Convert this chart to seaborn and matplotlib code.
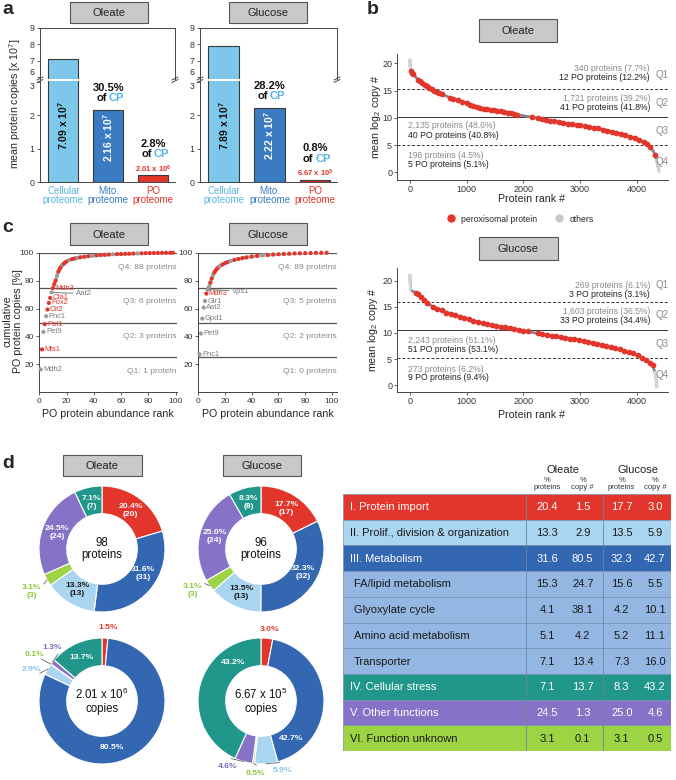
import numpy as np
import pandas as pd
import matplotlib
matplotlib.use("Agg")
import matplotlib.pyplot as plt
from matplotlib.patches import Rectangle
from matplotlib.lines import Line2D
import seaborn as sns

# ---------------- data ----------------
# a: mean protein copies [x 10^7]
a_cats = ["Cellular\nproteome", "Mito.\nproteome", "PO\nproteome"]
a_ole = [7.09, 2.16, 0.201]
a_glu = [7.89, 2.22, 0.0667]
a_ole_lbl = [r"7.09 x 10$^{\mathbf{7}}$", r"2.16 x 10$^{\mathbf{7}}$", r"2.01 x 10$^{\mathbf{6}}$"]
a_glu_lbl = [r"7.89 x 10$^{\mathbf{7}}$", r"2.22 x 10$^{\mathbf{7}}$", r"6.67 x 10$^{\mathbf{5}}$"]
a_ole_cp = ["30.5%", "2.8%"]
a_glu_cp = ["28.2%", "0.8%"]

# b: ranked mean log2 copy number (curve of all proteins + PO proteins)
b_ole_rank = [0, 3, 8, 15, 60, 140, 260, 340, 470, 560, 700, 850, 1000, 1180, 1300, 1600, 1880,
              2150, 2470, 2780, 3000, 3320, 3640, 3880, 4040, 4180, 4240, 4290, 4320, 4345, 4370, 4392]
b_ole_val = [20.6, 19.5, 18.8, 18.5, 18.0, 17.0, 16.1, 15.4, 14.8, 14.4, 13.7, 13.2, 12.7, 12.0, 11.7, 11.2, 10.6,
             10.1, 9.5, 8.95, 8.6, 8.05, 7.3, 6.55, 5.95, 5.15, 4.6, 3.9, 3.2, 2.3, 1.3, 0.2]
b_ole_po_rank = [15, 30, 60, 140, 180, 220, 260, 300, 340, 380, 420, 470, 520, 560, 700, 760, 850, 920,
                 1000, 1060, 1120, 1180, 1240, 1300, 1360, 1420, 1480, 1540, 1600, 1660, 1720, 1780, 1840,
                 1880, 2150, 2250, 2320, 2400, 2470, 2540, 2620, 2700, 2780, 2860, 2940, 3000, 3080, 3160,
                 3240, 3320, 3400, 3480, 3560, 3640, 3720, 3800, 3880, 3960, 4040, 4120, 4180, 4240, 4320]
b_ole_po_val = [18.5, 18.3, 18.0, 17.0, 16.7, 16.4, 16.1, 15.8, 15.4, 15.2, 15.0, 14.8, 14.6, 14.4, 13.7,
                13.5, 13.2, 12.9, 12.7, 12.4, 12.2, 12.0, 11.8, 11.7, 11.6, 11.5, 11.4, 11.3, 11.2, 11.1,
                10.95, 10.8, 10.7, 10.6, 10.1, 9.9, 9.8, 9.6, 9.5, 9.35, 9.2, 9.05, 8.95, 8.8, 8.7, 8.6,
                8.45, 8.3, 8.15, 8.05, 7.85, 7.65, 7.45, 7.3, 7.1, 6.85, 6.55, 6.3, 5.95, 5.55, 5.15, 4.6, 3.2]
b_ole_cuts = [15.3, 10.1, 5.0]
b_ole_q_all = ["340 proteins (7.7%)", "1,721 proteins (39.2%)", "2,135 proteins (48.6%)", "196 proteins (4.5%)"]
b_ole_q_po = ["12 PO proteins (12.2%)", "41 PO proteins (41.8%)", "40 PO proteins (40.8%)", "5 PO proteins (5.1%)"]

b_glu_rank = [0, 3, 10, 40, 100, 190, 250, 400, 600, 750, 900, 1040, 1220, 1360, 1510, 1660, 1840,
              2010, 2250, 2420, 2600, 2780, 2950, 3160, 3300, 3480, 3660, 3840, 3980, 4115, 4200,
              4280, 4320, 4340, 4355]
b_glu_val = [21.0, 19.8, 18.3, 18.0, 17.7, 16.9, 16.2, 15.0, 14.1, 13.6, 13.1, 12.6, 12.0, 11.7, 11.3,
             11.1, 10.7, 10.4, 9.9, 9.6, 9.3, 9.0, 8.7, 8.2, 7.9, 7.4, 6.9, 6.3, 5.8, 5.2, 4.5,
             3.8, 2.5, 1.0, -0.3]
b_glu_po_rank = [100, 140, 190, 250, 300, 400, 480, 560, 640, 720, 800, 880, 960, 1040, 1120, 1200,
                 1280, 1360, 1440, 1520, 1600, 1680, 1760, 1840, 1920, 2000, 2080, 2250, 2330, 2420,
                 2500, 2580, 2660, 2740, 2820, 2900, 2980, 3060, 3140, 3220, 3300, 3380, 3460, 3540,
                 3620, 3700, 3780, 3860, 3940, 4020, 4100, 4170, 4230, 4280]
b_glu_po_val = [17.7, 17.4, 16.9, 16.2, 15.8, 15.0, 14.6, 14.3, 13.9, 13.7, 13.4, 13.1, 12.9, 12.6,
                12.3, 12.1, 11.9, 11.7, 11.5, 11.3, 11.2, 11.05, 10.9, 10.7, 10.55, 10.4, 10.3, 9.9,
                9.75, 9.6, 9.45, 9.35, 9.2, 9.05, 8.9, 8.75, 8.6, 8.45, 8.3, 8.1, 7.9, 7.75, 7.55,
                7.3, 7.1, 6.85, 6.6, 6.4, 6.1, 5.8, 5.3, 4.8, 4.3, 3.8]
b_glu_cuts = [15.9, 10.6, 5.3]
b_glu_q_all = ["269 proteins (6.1%)", "1,603 proteins (36.5%)", "2,243 proteins (51.1%)", "273 proteins (6.2%)"]
b_glu_q_po = ["3 PO proteins (3.1%)", "33 PO proteins (34.4%)", "51 PO proteins (53.1%)", "9 PO proteins (9.4%)"]

# c: cumulative PO protein copies [%]
c_ole_names = ["Mdh2", "Mls1", "Pet9", "Pot1", "Pnc1", "Cit2", "Fox2", "Cta1", "Aat2", "Mdh3"]
c_ole_lead = [16.4, 30.7, 43.3, 48.8, 54.5, 59.3, 64.0, 67.6, 71.6, 74.6]
c_ole_lead_po = [0, 1, 0, 1, 0, 1, 1, 1, 0, 1]
c_ole_rank = [11, 12, 13, 14, 15, 16, 17, 18, 19, 20, 22, 24, 26, 28, 30, 33, 36, 39, 42, 45, 48, 51,
              54, 57, 60, 63, 66, 69, 72, 75, 78, 81, 84, 87, 90, 93, 96, 98]
c_ole_val = [77.5, 80.0, 83.5, 86.5, 88.5, 90.0, 91.2, 92.2, 93.0, 93.7, 94.7, 95.4, 95.9, 96.3, 96.7,
             97.1, 97.5, 97.8, 98.1, 98.3, 98.5, 98.7, 98.9, 99.0, 99.1, 99.2, 99.3, 99.4, 99.5, 99.6,
             99.7, 99.75, 99.8, 99.85, 99.9, 99.95, 99.98, 100.0]
c_ole_po = [1, 1, 0, 1, 1, 1, 0, 1, 1, 1, 0, 1, 1, 0, 1, 1, 1, 0, 1, 1, 1, 1, 0, 1, 1, 1, 1, 1, 0, 1,
            1, 1, 1, 1, 1, 1, 1, 1]
c_ole_q = ["Q1: 1 protein", "Q2: 3 proteins", "Q3: 6 proteins", "Q4: 88 proteins"]

c_glu_names = ["Pnc1", "Pet9", "Gpd1", "Aat2", "Glr1", "Mdh3", "Vps1"]
c_glu_lead = [27.1, 42.1, 52.8, 60.7, 65.4, 70.7, 73.6]
c_glu_lead_po = [0, 0, 0, 0, 0, 1, 0]
c_glu_rank = [8, 9, 10, 11, 12, 13, 14, 15, 16, 18, 20, 22, 24, 27, 30, 33, 36, 40, 44, 48, 52, 56,
              60, 64, 68, 72, 76, 80, 84, 88, 92, 96]
c_glu_val = [75.5, 78.5, 81.5, 84.0, 85.8, 87.3, 88.5, 89.5, 90.3, 91.5, 92.5, 93.3, 94.0, 94.8, 95.5,
             96.1, 96.6, 97.2, 97.7, 98.1, 98.4, 98.7, 98.9, 99.1, 99.3, 99.5, 99.6, 99.7, 99.8, 99.9,
             99.95, 100.0]
c_glu_po = [0, 1, 1, 0, 1, 1, 1, 1, 0, 1, 1, 1, 0, 1, 1, 1, 1, 1, 1, 0, 1, 1, 1, 1, 1, 1, 1, 1, 1, 1, 1, 1]
c_glu_q = ["Q1: 0 proteins", "Q2: 2 proteins", "Q3: 5 proteins", "Q4: 89 proteins"]

# d: functional groups
d_groups = ["I", "II", "III", "IV", "V", "VI"]
d_ole_prot_pct = [20.4, 13.3, 31.6, 7.1, 24.5, 3.1]
d_ole_prot_n = [20, 13, 31, 7, 24, 3]
d_glu_prot_pct = [17.7, 13.5, 32.3, 8.3, 25.0, 3.1]
d_glu_prot_n = [17, 13, 32, 8, 24, 3]
d_ole_copy_pct = [1.5, 2.9, 80.5, 13.7, 1.3, 0.1]
d_glu_copy_pct = [3.0, 5.9, 42.7, 43.2, 4.6, 0.5]
pie_order = ["I", "III", "II", "VI", "V", "IV"]

t_rows = ["I. Protein import", "II. Prolif., division & organization", "III. Metabolism",
          "FA/lipid metabolism", "Glyoxylate cycle", "Amino acid metabolism", "Transporter",
          "IV. Cellular stress", "V. Other functions", "VI. Function unknown"]
t_ole_prot = [20.4, 13.3, 31.6, 15.3, 4.1, 5.1, 7.1, 7.1, 24.5, 3.1]
t_ole_copy = [1.5, 2.9, 80.5, 24.7, 38.1, 4.2, 13.4, 13.7, 1.3, 0.1]
t_glu_prot = [17.7, 13.5, 32.3, 15.6, 4.2, 5.2, 7.3, 8.3, 25.0, 3.1]
t_glu_copy = [3.0, 5.9, 42.7, 5.5, 10.1, 11.1, 16.0, 43.2, 4.6, 0.5]

# ---------------- style ----------------
RED = "#E2352B"
SKY = "#7CC7EA"
MITO = "#3B7BC4"
grp_colors = {"I": RED, "II": "#A9D5F0", "III": "#3467B2", "IV": "#21978B", "V": "#8672C6", "VI": "#9CD444"}
SUB = "#93B7E2"
GRAY_T = "#8a8a8a"

W, H = 676, 780
sns.set_theme(style="ticks")
plt.rcParams["font.family"] = ["Liberation Sans", "DejaVu Sans"]
plt.rcParams["mathtext.fontset"] = "custom"
plt.rcParams["mathtext.rm"] = "Liberation Sans"
plt.rcParams["mathtext.it"] = "Liberation Sans:italic"
plt.rcParams["mathtext.bf"] = "Liberation Sans:bold"

fig = plt.figure(figsize=(W / 100, H / 100), dpi=100)


def px_axes(x0, y0, x1, y1):
    return fig.add_axes([x0 / W, 1 - y1 / H, (x1 - x0) / W, (y1 - y0) / H])


def ftext(x, y, s, **kw):
    return fig.text(x / W, 1 - y / H, s, **kw)


def cond_box(x0, y0, x1, y1, label):
    fig.add_artist(Rectangle((x0 / W, 1 - y1 / H), (x1 - x0) / W, (y1 - y0) / H,
                             transform=fig.transFigure, facecolor="#c9c9c9",
                             edgecolor="#555555", lw=0.8))
    ftext((x0 + x1) / 2, (y0 + y1) / 2 + 0.5, label, ha="center", va="center", fontsize=8, color="#222")


def style_axis(ax, size=6.3, pad=1.5):
    ax.tick_params(axis="both", length=2.5, width=0.6, color="#444", labelsize=size,
                   labelcolor="#333", pad=pad)
    for sp in ax.spines.values():
        sp.set_color("#444")
        sp.set_linewidth(0.7)


# ---------------- panel a ----------------
def off(ax, s, x, v, dx, dy, **kw):
    ax.annotate(s, (x, v), xytext=(dx * 0.72, dy * 0.72), textcoords="offset points",
                va="center", annotation_clip=False, **kw)


def cp_label(ax, x, v, pct, dy_of, dy_pct):
    off(ax, pct, x, v, 0, dy_pct, ha="center", fontsize=8, fontweight="bold", color="#111")
    off(ax, "of", x, v, -1.5, dy_of, ha="right", fontsize=8, fontweight="bold", color="#111")
    off(ax, "CP", x, v, 0, dy_of, ha="left", fontsize=8, fontweight="bold", color="#4FB3E8")


def bar_panel(x0, x1, vals, lbls, cps):
    df = pd.DataFrame({"cat": a_cats, "val": vals})
    top = px_axes(x0, 27.5, x1, 78.5)
    bot = px_axes(x0, 81, x1, 182)
    for ax in (top, bot):
        sns.barplot(data=df, x="cat", y="val", hue="cat", palette=[SKY, MITO, RED], saturation=1,
                    width=0.67, edgecolor="#3a3a3a", linewidth=0.8, legend=False, ax=ax)
        ax.set_xlim(-0.52, 2.48)
        ax.set_xlabel("")
        ax.set_ylabel("")
        style_axis(ax)
    top.set_ylim(5.91, 9.03)
    top.set_yticks([6, 7, 8, 9])
    top.spines["bottom"].set_visible(False)
    top.tick_params(axis="x", bottom=False, labelbottom=False)
    bot.set_ylim(0, 3.03)
    bot.set_yticks([0, 1, 2, 3])
    bot.spines[["top", "right"]].set_visible(False)
    # keep the "6" and "3" labels at the break apart
    top.get_yticklabels()[0].set_va("bottom")
    bot.get_yticklabels()[-1].set_va("top")
    bot.set_xticks([0, 1, 2])
    bot.set_xticklabels(a_cats, fontsize=7, linespacing=0.9)
    bot.tick_params(axis="x", length=0, pad=3)
    for lab, c in zip(bot.get_xticklabels(), ["#5BB8E6", MITO, RED]):
        lab.set_color(c)
    bot.text(0, 1.7, lbls[0], rotation=90, ha="center", va="center", fontsize=7.5,
             fontweight="bold", color="#111")
    bot.text(1, vals[1] - 0.09, lbls[1], rotation=90, ha="center", va="top", fontsize=7.5,
             fontweight="bold", color="white")
    off(bot, lbls[2], 2, vals[2], 0, 6, ha="center", fontsize=5.5, fontweight="bold", color=RED)
    cp_label(bot, 1, vals[1], cps[0], 12, 22)
    cp_label(bot, 2, vals[2], cps[1], 21, 31.5)
    for xx in (x0, x1):
        for yy in (78.5, 81):
            fig.add_artist(Line2D([(xx - 3) / W, (xx + 3) / W], [1 - (yy + 1.5) / H, 1 - (yy - 1.5) / H],
                                  transform=fig.transFigure, color="#444", lw=0.7))


bar_panel(40, 175, a_ole, a_ole_lbl, a_ole_cp)
bar_panel(200, 337, a_glu, a_glu_lbl, a_glu_cp)
ftext(15, 104, "mean protein copies [x 10$^{7}$]", rotation=90, ha="center", va="center", fontsize=7.7)
ftext(2, 10, "a", fontsize=14, fontweight="bold", va="center")
cond_box(70, 2, 148, 23, "Oleate")
cond_box(229, 2, 307, 23, "Glucose")


# ---------------- panel b ----------------
def rank_panel(y0, y1, ylim, cr, cv, pr, pv, cuts, q_all, q_po, t_y, q_y):
    ax = px_axes(397, y0, 668, y1)
    curve = pd.DataFrame({"rank": cr, "val": cv})
    sns.lineplot(data=curve, x="rank", y="val", color="#878787", lw=2.0, ax=ax, zorder=2)
    sns.lineplot(data=curve.head(3), x="rank", y="val", color="#d6d6d6", lw=2.0, ax=ax, zorder=2)
    sns.lineplot(data=curve.tail(3), x="rank", y="val", color="#d6d6d6", lw=2.0, ax=ax, zorder=2)
    po = pd.DataFrame({"rank": pr, "val": pv})
    sns.scatterplot(data=po, x="rank", y="val", color=RED, s=17, linewidth=0, ax=ax, zorder=3)
    for c, ls in zip(cuts, [(0, (3, 2)), "-", (0, (3, 2))]):
        ax.axhline(c, color="#333", lw=0.7, ls=ls, zorder=1)
    ax.set_xlim(-229, 4550)
    ax.set_ylim(ylim)
    ax.set_xticks([0, 1000, 2000, 3000, 4000])
    ax.set_yticks([0, 5, 10, 15, 20])
    ax.set_xlabel("")
    ax.set_ylabel("")
    ax.spines[["top", "right"]].set_visible(False)
    style_axis(ax, 6.5, pad=1)
    for i in range(4):
        xx, ha = (4233, "right") if i < 2 else (-35, "left")
        ax.text(xx, t_y[i][0], q_all[i], ha=ha, va="center", fontsize=6.2, color=GRAY_T)
        ax.text(xx, t_y[i][1], q_po[i], ha=ha, va="center", fontsize=6.2, color="#222")
        ax.text(4444, q_y[i], f"Q{i + 1}", ha="center", va="center", fontsize=7, color=GRAY_T,
                clip_on=False)
    return ax


rank_panel(54, 180, (-1.41, 21.7), b_ole_rank, b_ole_val, b_ole_po_rank, b_ole_po_val, b_ole_cuts,
           b_ole_q_all, b_ole_q_po, [(19.1, 17.45), (13.6, 11.8), (8.6, 6.8), (3.15, 1.45)],
           [17.8, 12.7, 7.6, 1.8])
rank_panel(268, 392, (-1.28, 22.4), b_glu_rank, b_glu_val, b_glu_po_rank, b_glu_po_val, b_glu_cuts,
           b_glu_q_all, b_glu_q_po, [(19.1, 17.4), (14.1, 12.4), (8.5, 6.8), (3.1, 1.4)],
           [19.1, 13.5, 7.9, 2.0])
for yy in (199.5, 414.5):
    ftext(532, yy, "Protein rank #", ha="center", va="center", fontsize=7.7)
ftext(376, 117, "mean log$_{2}$ copy #", rotation=90, ha="center", va="center", fontsize=7.7)
ftext(373, 330, "mean log$_{2}$ copy #", rotation=90, ha="center", va="center", fontsize=7.7)
ftext(367, 10, "b", fontsize=14, fontweight="bold", va="center")
cond_box(479, 19, 557, 42, "Oleate")
cond_box(479, 237, 558, 260, "Glucose")
handles = [Line2D([], [], ls="", marker="o", ms=6, color=RED, mew=0),
           Line2D([], [], ls="", marker="o", ms=6, color="#c8c8c8", mew=0)]
fig.legend(handles, ["peroxisomal protein", "others"], loc="center", ncol=2, frameon=False,
           fontsize=6.2, handletextpad=0.2, columnspacing=1.6, bbox_to_anchor=(518 / W, 1 - 219 / H))


# ---------------- panel c ----------------
def cum_panel(x0, x1, xmax, names, lead, lead_po, qr, qv, qpo, qtxt, leader_txt):
    ax = px_axes(x0, 252.7, x1, 392.3)
    n_lead = len(lead)
    band = pd.DataFrame({"rank": [n_lead] + qr, "val": [lead[-1]] + qv})
    sns.lineplot(data=band, x="rank", y="val", color="#b5b5b5", lw=2.4, ax=ax, zorder=2)
    pts = pd.DataFrame({"rank": list(range(1, n_lead + 1)) + qr, "val": lead + qv,
                        "po": lead_po + qpo})
    sns.scatterplot(data=pts, x="rank", y="val", hue="po", palette={1: RED, 0: "#9a9a9a"}, s=9,
                    linewidth=0, legend=False, ax=ax, zorder=3, clip_on=False)
    for h in (25, 50, 75, 100):
        ax.axhline(h, color="#555", lw=0.9, zorder=1)
    ax.set_xlim(0, xmax)
    ax.set_ylim(0, 100)
    ax.set_xticks([0, 20, 40, 60, 80, 100])
    ax.set_yticks([20, 40, 60, 80, 100])
    ax.set_xlabel("")
    ax.set_ylabel("")
    ax.spines[["top", "right"]].set_visible(False)
    style_axis(ax, 6)
    for i, (nm, v, p) in enumerate(zip(names, lead, lead_po)):
        col = RED if p else "#7a7a7a"
        if nm in leader_txt:
            tx, ty = leader_txt[nm]
            ax.annotate(nm, (i + 1, v), xytext=(tx, ty), textcoords="data", ha="left", va="center",
                        fontsize=5.5, color=col,
                        arrowprops=dict(arrowstyle="-", color="#8a8a8a", lw=0.8, shrinkA=0, shrinkB=1))
        else:
            off(ax, nm, i + 1, v, 2.5, 0, ha="left", fontsize=5.4, color=col)
    for k, t in enumerate(qtxt):
        ax.text(0.995, (k * 25 + 14.7) / 100, t, transform=ax.transAxes, ha="right", va="center",
                fontsize=6.1, color=GRAY_T)
    return ax


cum_panel(39.3, 177, 101, c_ole_names, c_ole_lead, c_ole_lead_po, c_ole_rank, c_ole_val, c_ole_po,
          c_ole_q, {"Aat2": (27, 70.6)})
cum_panel(198.3, 337.3, 104, c_glu_names, c_glu_lead, c_glu_lead_po, c_glu_rank, c_glu_val, c_glu_po,
          c_glu_q, {"Vps1": (25.5, 72.4)})
ftext(108, 414, "PO protein abundance rank", ha="center", va="center", fontsize=7.7)
ftext(268, 414, "PO protein abundance rank", ha="center", va="center", fontsize=7.7)
ftext(13, 321, "cumulative\nPO protein copies [%]", rotation=90, ha="center", va="center",
      fontsize=7.7, linespacing=1.0)
ftext(2, 227, "c", fontsize=14, fontweight="bold", va="center")
cond_box(70, 223, 148, 245, "Oleate")
cond_box(229, 223, 307, 245, "Glucose")

# ---------------- panel d ----------------
out_colors = {"I": RED, "II": "#86C3EC", "V": "#7B69C2", "VI": "#8DC63F"}


def donut(cx, cy, pcts, counts, center, outside, angle_fix, top):
    R, half = 63, 84
    ax = px_axes(cx - half, cy - half, cx + half, cy + half)
    order = [d_groups.index(g) for g in pie_order]
    wedges, _ = ax.pie([pcts[i] for i in order], colors=[grp_colors[g] for g in pie_order],
                       startangle=90, counterclock=False, radius=1,
                       wedgeprops=dict(width=0.44, edgecolor="white", linewidth=0.8))
    lim = half / R
    ax.set_xlim(-lim, lim)
    ax.set_ylim(-lim, lim)
    ax.axis("off")
    ax.text(0, 0, center, ha="center", va="center", fontsize=8.3, color="#111", linespacing=1.05)
    for w, g, i in zip(wedges, pie_order, order):
        txt = f"{pcts[i]:.1f}%" + (f"\n({counts[i]})" if top else "")
        mid = np.deg2rad((w.theta1 + w.theta2) / 2)
        if g in outside:
            ang, r = outside[g]
            a = np.deg2rad(ang)
            ax.text(r * np.cos(a), r * np.sin(a), txt, ha="center", va="center", fontsize=6.1,
                    fontweight="bold", color=out_colors[g], linespacing=1.2)
            if g != "I":
                e = r - (0.22 if top else 0.14)
                ax.plot([np.cos(mid), e * np.cos(a)], [np.sin(mid), e * np.sin(a)], color="#666",
                        lw=0.6)
        else:
            a = np.deg2rad(angle_fix.get(g, np.rad2deg(mid)))
            ax.text(0.76 * np.cos(a), 0.76 * np.sin(a), txt, ha="center", va="center", fontsize=6.1,
                    fontweight="bold", color="#1a1a1a" if g == "II" else "white", linespacing=1.2)


donut(102, 549, d_ole_prot_pct, d_ole_prot_n, "98\nproteins", {"VI": (211, 1.3)}, {"III": -31}, True)
donut(261, 549, d_glu_prot_pct, d_glu_prot_n, "96\nproteins", {"VI": (211.5, 1.27)}, {"III": -29}, True)
donut(102, 701, d_ole_copy_pct, None, "2.01 x 10$^{6}$\ncopies",
      {"I": (85, 1.17), "V": (133.3, 1.16), "VI": (145.3, 1.31), "II": (156.1, 1.22)},
      {"III": -78}, False)
donut(261, 701, d_glu_copy_pct, None, "6.67 x 10$^{5}$\ncopies",
      {"I": (83, 1.15), "V": (-117.4, 1.17), "VI": (-94, 1.16), "II": (-73.2, 1.16)},
      {"III": -51, "IV": 126}, False)
ftext(2, 464, "d", fontsize=14, fontweight="bold", va="center")
cond_box(63, 455, 142, 476, "Oleate")
cond_box(223, 455, 301, 476, "Glucose")

# table
tab = px_axes(343, 494, 671, 751)
tab.set_xlim(0, 328)
tab.set_ylim(10, 0)
tab.axis("off")
row_cols = [RED, grp_colors["II"], grp_colors["III"], SUB, SUB, SUB, SUB, grp_colors["IV"],
            grp_colors["V"], grp_colors["VI"]]
white_rows = {0, 2, 7, 8}
col_x = [204.3, 239.7, 278.7, 312]
for i, name in enumerate(t_rows):
    tab.add_patch(Rectangle((0, i), 328, 1, facecolor=row_cols[i], edgecolor="#7690b5", lw=0.5))
    tc = "white" if i in white_rows else "#1a1a1a"
    tab.text(10.5 if 3 <= i <= 6 else 7, i + 0.52, name, ha="left", va="center", fontsize=8, color=tc)
    for xx, arr in zip(col_x, [t_ole_prot, t_ole_copy, t_glu_prot, t_glu_copy]):
        tab.text(xx, i + 0.52, f"{arr[i]:.1f}", ha="center", va="center", fontsize=8, color=tc)
tab.vlines([182.7, 260.3], 0, 10, color="#6d83a3", lw=0.6)
tab.text(220.3, -0.93, "Oleate", ha="center", va="center", fontsize=8, color="#222", clip_on=False)
tab.text(295.3, -0.93, "Glucose", ha="center", va="center", fontsize=8, color="#222", clip_on=False)
for xx, s in zip(col_x, ["%\nproteins", "%\ncopy #", "%\nproteins", "%\ncopy #"]):
    tab.text(xx, -0.38, s, ha="center", va="center", fontsize=5.5, color="#333", linespacing=0.9,
             clip_on=False)

fig.savefig("out.png", dpi=100)
